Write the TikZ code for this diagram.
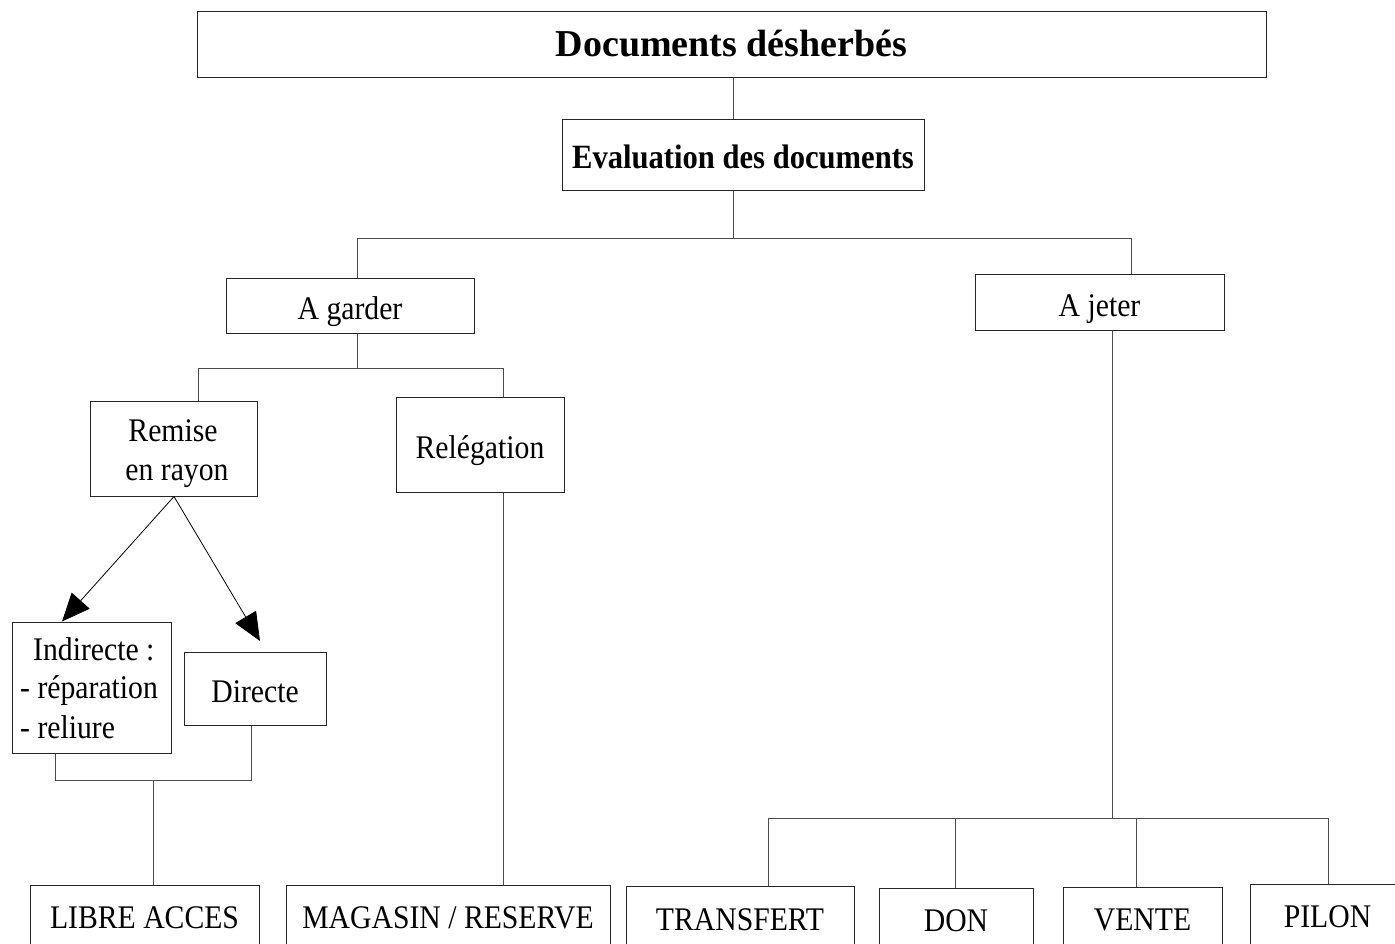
\documentclass[tikz,border=0pt]{standalone}
\usepackage{fontspec}
\setmainfont{Liberation Serif}[FakeStretch=0.9]
\newfontfamily\titlefont{Liberation Serif}
\usetikzlibrary{arrows.meta,calc}
\begin{document}
\begin{tikzpicture}[x=1pt,y=-1pt,
  box/.style={draw=black!85, line width=1pt, inner sep=0pt, rectangle},
  reg/.style={font=\fontsize{33}{39}\selectfont, text height=28pt, text depth=0pt},
  regb/.style={font=\fontsize{33}{39}\selectfont, text height=22pt, text depth=0pt},
  txt/.style={font=\fontsize{33}{39}\selectfont, inner sep=0pt},
  conn/.style={draw=black!70, line width=1pt},
  arr/.style={draw=black, line width=0.8pt, -{Triangle[length=28pt,width=24pt]}}]
\useasboundingbox (0,0) rectangle (1395,943);
\fill[white] (0,0) rectangle (1395,943);

% nodes
\node[box, minimum width=1069pt, minimum height=66pt, font=\fontsize{38}{45}\titlefont\bfseries, text height=25.2pt, text depth=0pt] (title) at (731.5,44) {Documents désherbés};
\node[box, minimum width=362pt, minimum height=71pt, font=\fontsize{34}{40}\selectfont\bfseries, text height=28.5pt, text depth=0pt] (eval) at (743,154.5) {Evaluation des documents};
\node[box, reg, minimum width=248pt, minimum height=55pt] (gard) at (350,305.5) {A garder};
\node[box, reg, minimum width=249pt, minimum height=56pt] (jet) at (1099.5,302.5) {A jeter};
\node[box, minimum width=167pt, minimum height=95pt] (remise) at (174,448.5) {};
\node[txt, anchor=base] (remise1) at (173,441.7) {Remise};
\node[txt, anchor=base] (remise2) at (177,480.4) {en rayon};
\node[box, reg, minimum width=168pt, minimum height=95pt] (releg) at (480,444.5) {Relégation};
\node[box, minimum width=159pt, minimum height=131pt] (indir) at (91.5,687.5) {};
\node[txt, anchor=base west] (indir1) at (33,660) {Indirecte :};
\node[txt, anchor=base west] (indir2) at (20,698.5) {- réparation};
\node[txt, anchor=base west] (indir3) at (20,738) {- reliure};
\node[box, reg, minimum width=142pt, minimum height=73pt] (direct) at (255,688.5) {Directe};
\node[box, regb, minimum width=229pt, minimum height=65pt] (libre) at (144.5,917.5) {LIBRE ACCES};
\node[box, regb, minimum width=324pt, minimum height=65pt] (mag) at (448,917.5) {MAGASIN / RESERVE};
\node[box, regb, minimum width=228pt, minimum height=65pt] (transf) at (740,919.3) {TRANSFERT};
\node[box, regb, minimum width=154pt, minimum height=65pt] (don) at (956,920.5) {DON};
\node[box, regb, minimum width=159pt, minimum height=65pt] (vente) at (1142.5,919.5) {VENTE};
\node[box, regb, minimum width=155pt, minimum height=63pt] (pilon) at (1327.5,916.2) {PILON};

% junction coordinates
\coordinate (j0) at (733,100);
\coordinate (j1) at (733,238);
\coordinate (j1l) at (357,238);
\coordinate (j1r) at (1131,238);
\coordinate (j2) at (357,368);
\coordinate (j2l) at (198,368);
\coordinate (j2r) at (503,368);
\coordinate (a1) at (62,600);
\coordinate (a2) at (260,641);
\coordinate (j3l) at (55,780);
\coordinate (j3r) at (251,780);
\coordinate (j3) at (153,780);
\coordinate (j4) at (1112,818);
\coordinate (j4a) at (768,818);
\coordinate (j4b) at (955,818);
\coordinate (j4c) at (1136,818);
\coordinate (j4d) at (1328,818);

% connectors
\draw[conn] (title.south -| j0) -- (eval.north -| j0);
\draw[conn] (eval.south -| j1) -- (j1);
\draw[conn] (gard.north -| j1l) -- (j1l) -- (j1r) -- (jet.north -| j1r);
\draw[conn] (gard.south -| j2) -- (j2);
\draw[conn] (remise.north -| j2l) -- (j2l) -- (j2r) -- (releg.north -| j2r);
\draw[arr] (remise.south) -- (indir.north -| a1);
\draw[arr] (remise.south) -- (a2);
\draw[conn] (indir.south -| j3l) -- (j3l) -- (j3r) -- (direct.south -| j3r);
\draw[conn] (j3) -- (libre.north -| j3);
\draw[conn] (releg.south -| j2r) -- (mag.north -| j2r);
\draw[conn] (jet.south -| j4) -- (j4);
\draw[conn] (j4a) -- (j4d);
\draw[conn] (j4a) -- (transf.north -| j4a);
\draw[conn] (j4b) -- (don.north -| j4b);
\draw[conn] (j4c) -- (vente.north -| j4c);
\draw[conn] (j4d) -- (pilon.north -| j4d);
\end{tikzpicture}
\end{document}
